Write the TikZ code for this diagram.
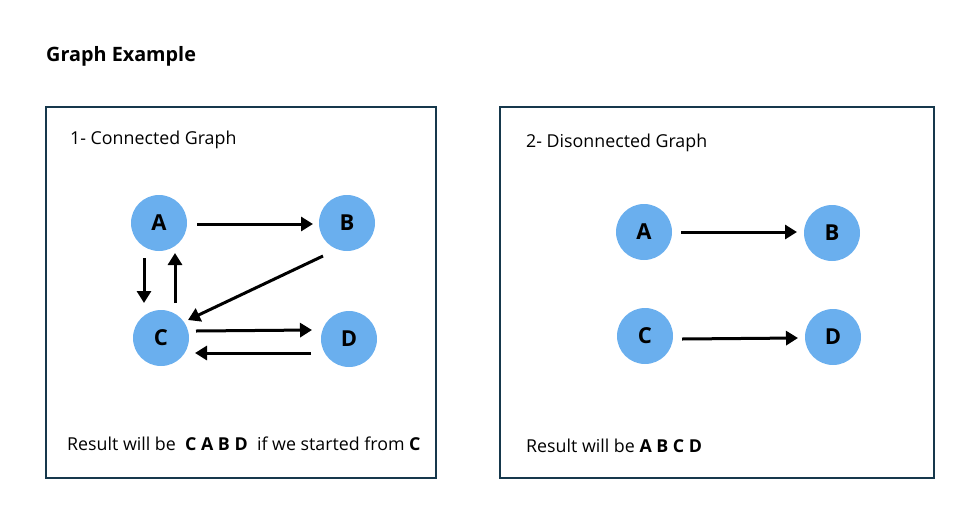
\documentclass[tikz,border=0pt]{standalone}
\usepackage{fontspec}
\setmainfont{Open Sans}
\usetikzlibrary{arrows.meta}
\usetikzlibrary{calc}
\definecolor{nodeblue}{RGB}{106,175,238}
\definecolor{panelline}{RGB}{22,56,76}
\tikzset{
	vertex/.style={circle, fill=nodeblue, minimum size=56pt, inner sep=0pt, font=\bfseries\fontsize{22}{22}\selectfont},
	edge/.style={line width=3pt, -{Triangle[width=14pt,length=12pt]}},
	panel/.style={draw=panelline, line width=1.2pt},
	caption/.style={anchor=base west, inner sep=0pt, font=\fontsize{17.8}{18}\selectfont},
}

\begin{document}
\begin{tikzpicture}[x=1pt, y=-1pt]
	% page: 977 x 515, y grows downwards
	\useasboundingbox (0,0) rectangle (977,515);
	\node[anchor=base west, inner sep=0pt, font=\bfseries\fontsize{19.8}{20}\selectfont] (title) at (46,61) {Graph Example};
	
	% panel 1: connected graph
	\draw[panel] (46,107) rectangle (436,478);
	\node[caption] (capone) at (70,144) {1- Connected Graph};
	\node[vertex] (A) at (159,223) {A};
	\node[vertex] (B) at (347,223) {B};
	\node[vertex] (C) at (161,338) {C};
	\node[vertex] (D) at (349,339) {D};
	\draw[edge] ($(A)+(38,1)$) -- ($(B)+(-34,1)$);
	\draw[edge] ($(A)+(-15,35)$) -- ($(C)+(-17,-35)$);
	\draw[edge] ($(C)+(14,-35)$) -- ($(A)+(16,30)$);
	\draw[edge] ($(B)+(-24,33)$) -- ($(C)+(27,-18)$);
	\draw[edge] ($(C)+(35,-7)$) -- ($(D)+(-37,-9)$);
	\draw[edge] ($(D)+(-38,14)$) -- ($(C)+(34,15)$);
	\node[caption] (resone) at (67,450) {Result will be~~\textbf{C A B D}~~if we started from \textbf{C}};
	
	% panel 2: disconnected graph
	\draw[panel] (500,107) rectangle (934,478);
	\node[caption] (captwo) at (526,147) {2- Disonnected Graph};
	\node[vertex] (A2) at (644,232) {A};
	\node[vertex] (B2) at (832,233) {B};
	\node[vertex] (C2) at (645,336) {C};
	\node[vertex] (D2) at (833,337) {D};
	\draw[edge] ($(A2)+(37,0)$) -- ($(B2)+(-35,-1)$);
	\draw[edge] ($(C2)+(37,3)$) -- ($(D2)+(-35,1)$);
	\node[caption] (restwo) at (526,452) {Result will be \textbf{A B C D}};
	
\end{tikzpicture}
\end{document}
